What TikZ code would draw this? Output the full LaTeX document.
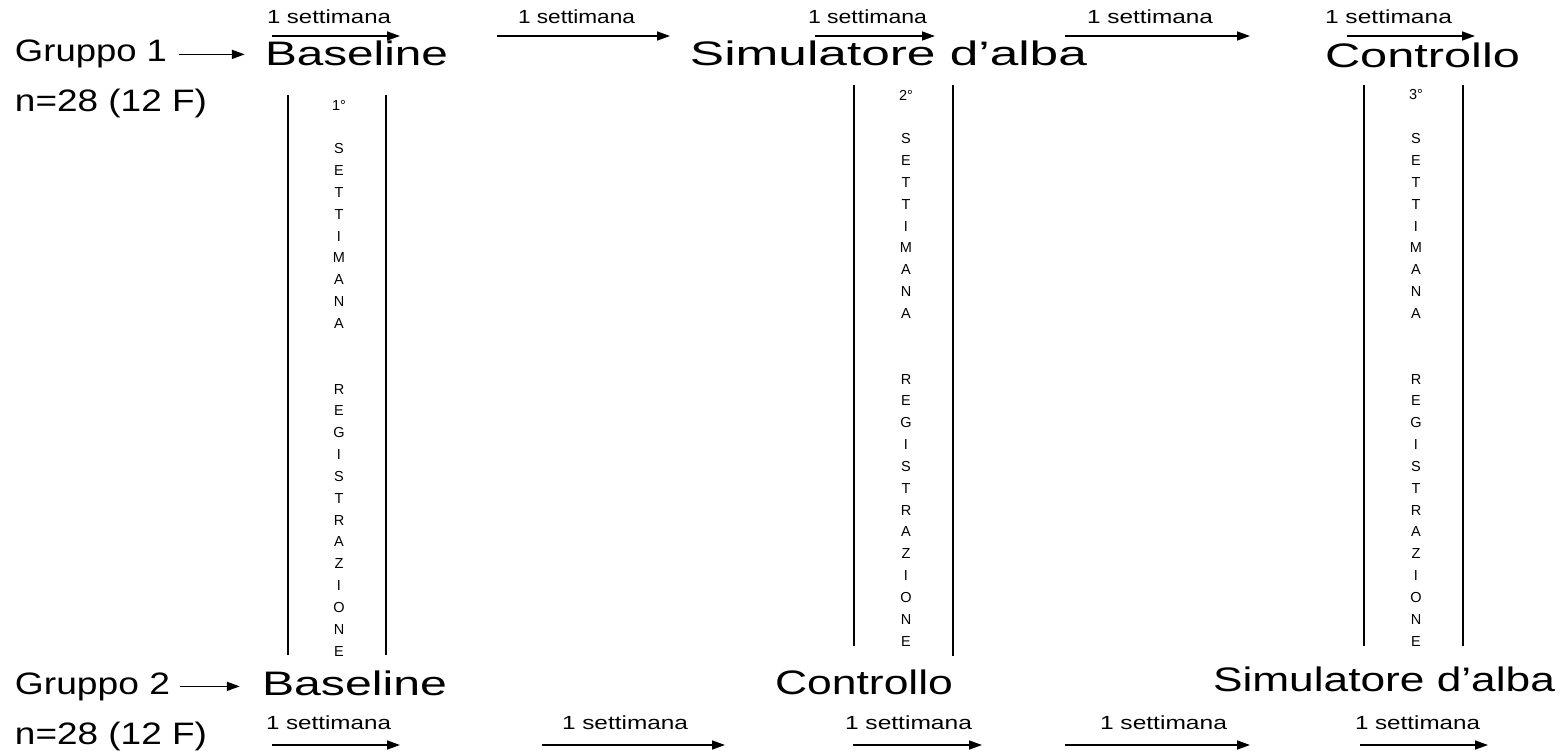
\documentclass[tikz,border=0pt]{standalone}
\usepackage{fontspec}
\setmainfont{Liberation Sans}
\usetikzlibrary{arrows.meta}
\newcommand\fitw[2]{\resizebox{#1pt}{\height}{#2}}
\tikzset{
  big/.style={inner sep=0pt, anchor=base, font=\fontsize{34}{40}\selectfont},
  grp/.style={inner sep=0pt, anchor=base, font=\fontsize{31}{37}\selectfont},
  wk/.style={inner sep=0pt, anchor=base, font=\fontsize{19}{23}\selectfont},
  vl/.style={inner sep=0pt, anchor=center, font=\fontsize{14.5}{17}\selectfont},
  arr/.style={line width=1.6pt, -{Triangle[length=13pt,width=9pt]}},
  col/.style={line width=1.8pt},
}
\begin{document}
\begin{tikzpicture}[x=1pt,y=-1pt]
\path[use as bounding box, fill=white] (0,0) rectangle (1567,752);

% ---------- Group 1 (top) ----------
\node[grp] (g1) at (91,62) {\fitw{152}{Gruppo 1}};
\node[grp] (n1) at (111,111) {\fitw{192}{n=28 (12 F)}};
\node[big] (b1) at (356.5,66) {\fitw{183}{Baseline}};
\node[big] (s1) at (888.5,66) {\fitw{397}{Simulatore d’alba}};
\node[big] (c1) at (1422.5,67) {\fitw{195}{Controllo}};
\draw[arr, shorten <=12pt, shorten >=20pt] (g1.east) -- (g1.east -| b1.west);

% top week arrows
\coordinate (ta1) at (272,36);  \coordinate (tb1) at (400,36);
\coordinate (ta2) at (497,36);  \coordinate (tb2) at (670,36);
\coordinate (ta3) at (815,36);  \coordinate (tb3) at (935,36);
\coordinate (ta4) at (1065,36); \coordinate (tb4) at (1250,36);
\coordinate (ta5) at (1347,36); \coordinate (tb5) at (1475,36);
\foreach \i in {1,...,5} \draw[arr] (ta\i) -- (tb\i);
\node[wk] (tl1) at (329,24)    {\fitw{124}{1 settimana}};
\node[wk] (tl2) at (576.5,24)  {\fitw{117}{1 settimana}};
\node[wk] (tl3) at (867.5,24)  {\fitw{119}{1 settimana}};
\node[wk] (tl4) at (1150,24)   {\fitw{126}{1 settimana}};
\node[wk] (tl5) at (1388.5,24) {\fitw{127}{1 settimana}};

% ---------- Group 2 (bottom) ----------
\node[grp] (g2) at (92.5,694) {\fitw{155}{Gruppo 2}};
\node[grp] (n2) at (111,744) {\fitw{192}{n=28 (12 F)}};
\node[big] (b2) at (354.5,695) {\fitw{185}{Baseline}};
\node[big] (c2) at (864,694) {\fitw{178}{Controllo}};
\node[big] (s2) at (1384,691) {\fitw{342}{Simulatore d’alba}};
\draw[arr, shorten <=10pt, shorten >=22pt] (g2.east) -- (g2.east -| b2.west);

% bottom week arrows
\coordinate (ba1) at (272,745);  \coordinate (bb1) at (400,745);
\coordinate (ba2) at (542,745);  \coordinate (bb2) at (725,745);
\coordinate (ba3) at (853,745);  \coordinate (bb3) at (982,745);
\coordinate (ba4) at (1065,745); \coordinate (bb4) at (1250,745);
\coordinate (ba5) at (1360,745); \coordinate (bb5) at (1488,745);
\foreach \i in {1,...,5} \draw[arr] (ba\i) -- (bb\i);
\node[wk] (bl1) at (328.5,729) {\fitw{125}{1 settimana}};
\node[wk] (bl2) at (625,729)   {\fitw{126}{1 settimana}};
\node[wk] (bl3) at (908.5,729) {\fitw{127}{1 settimana}};
\node[wk] (bl4) at (1163.5,729){\fitw{127}{1 settimana}};
\node[wk] (bl5) at (1417.5,729){\fitw{125}{1 settimana}};

% ---------- recording columns ----------
\coordinate (k1lt) at (288,95);  \coordinate (k1lb) at (288,655);
\coordinate (k1rt) at (386,95);  \coordinate (k1rb) at (386,655);
\coordinate (k2lt) at (854,85);  \coordinate (k2lb) at (854,646);
\coordinate (k2rt) at (953,85);  \coordinate (k2rb) at (953,656);
\coordinate (k3lt) at (1364,85); \coordinate (k3lb) at (1364,646);
\coordinate (k3rt) at (1463,85); \coordinate (k3rb) at (1463,646);
\foreach \i in {1,2,3} {
  \draw[col] (k\i lt) -- (k\i lb);
  \draw[col] (k\i rt) -- (k\i rb);
}

\foreach \cx/\cy/\n/\lab in {339/105/1/1°, 906/95/2/2°, 1416/95/3/3°} {
  \node[vl] (v\n-0) at (\cx,\cy) {\lab};
  \foreach \t [count=\k from 2] in {S,E,T,T,I,M,A,N,A}
    \node[vl] (v\n-\k) at (\cx,{\cy+21.85*\k}) {\t};
  \foreach \t [count=\k from 13] in {R,E,G,I,S,T,R,A,Z,I,O,N,E}
    \node[vl] (v\n-\k) at (\cx,{\cy+21.85*\k}) {\t};
}
\end{tikzpicture}
\end{document}
